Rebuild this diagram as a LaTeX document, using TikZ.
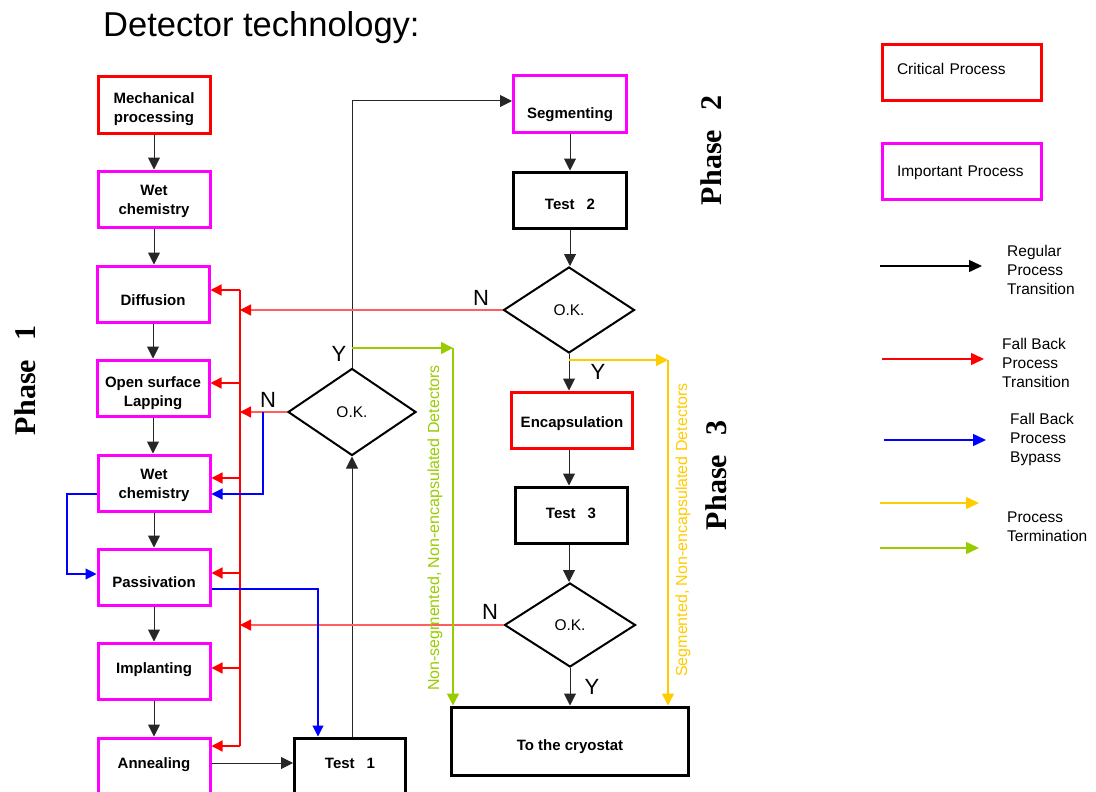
\documentclass[tikz,border=0pt]{standalone}
\usepackage{fontspec}
\setmainfont{Liberation Sans}
\newfontfamily\phasefont{Liberation Serif}
\usetikzlibrary{shapes.geometric,arrows.meta}
\definecolor{mag}{RGB}{255,0,255}
\definecolor{fbred}{RGB}{255,95,95}
\definecolor{termgreen}{RGB}{153,204,0}
\definecolor{termyellow}{RGB}{255,204,0}
% #1: raise amount (pt), #2: text; result box has symmetric fake height/depth
\newcommand{\boxtxt}[2]{\raisebox{#1pt}[10pt][10pt]{\begin{tabular}{@{}c@{}}#2\end{tabular}}}
\begin{document}
\begin{tikzpicture}[x=1pt,y=-1pt,
  proc/.style={rectangle, draw, line width=3pt, minimum width=112pt, minimum height=56pt,
    inner sep=0pt, align=center, font=\fontsize{15}{19}\selectfont\bfseries},
  crit/.style={proc, draw=red},
  imp/.style={proc, draw=mag},
  testbox/.style={proc, draw=black},
  decision/.style={diamond, draw, line width=2pt, minimum width=130pt, minimum height=86pt,
    inner sep=0pt, font=\fontsize{15.5}{18}\selectfont},
  tip/.style={-{Triangle[length=12pt,width=12pt]}},
  flow/.style={draw=black!85, line width=1pt, tip},
  fbline/.style={draw=fbred, line width=1.3pt},
  fb/.style={draw=red, line width=1.3pt, -{Triangle[length=11pt,width=11pt,color=red]}},
  fbin/.style={fbline, -{Triangle[length=11pt,width=11pt,color=red]}},
  trunk/.style={draw=red, line width=1.3pt},
  bypass/.style={draw=blue, line width=1.1pt, -{Triangle[length=11pt,width=11pt]}},
  termg/.style={draw=termgreen, line width=1.5pt, -{Triangle[length=12pt,width=12pt]}},
  termy/.style={draw=termyellow, line width=1.5pt, -{Triangle[length=12pt,width=12pt]}},
  yn/.style={inner sep=0pt, font=\fontsize{22}{22}\selectfont},
  sidetext/.style={rotate=90, inner sep=0pt, font=\fontsize{16}{16}\selectfont},
  phase/.style={rotate=90, inner sep=0pt, font=\phasefont\fontsize{30}{30}\selectfont\bfseries},
  legbox/.style={rectangle, line width=3pt, minimum width=159pt, minimum height=56pt, inner sep=0pt,
    text width=129pt, align=left, font=\fontsize{15.5}{19}\selectfont},
  legtext/.style={anchor=west, inner sep=0pt, align=left, font=\fontsize{15.5}{19}\selectfont},
  legarrow/.style={line width=1.5pt, -{Triangle[length=13pt,width=12pt]}}
]
\clip (0,0) rectangle (1096,792);
\fill[white] (0,0) rectangle (1096,792);

% Title
\node[anchor=base west, inner sep=0pt, font=\fontsize{34.5}{35}\selectfont] (title) at (103,37) {Detector technology:};

% Phase labels
\node[phase] (ph1) at (25,380) {Phase\hspace{20pt}1};
\node[phase] (ph2) at (711,150) {Phase\hspace{20pt}2};
\node[phase] (ph3) at (716,475) {Phase\hspace{20pt}3};

% Left column
\node[crit] (mech) at (154,105) {\boxtxt{-7.35}{Mechanical\\processing}};
\node[imp] (wet1) at (154,199) {\boxtxt{-5.35}{Wet\\chemistry}};
\node[imp] (diff) at (153,294) {\boxtxt{-11}{Diffusion}};
\node[imp] (lap) at (153,388) {\boxtxt{-8.85}{Open surface\\Lapping}};
\node[imp] (wet2) at (154,483) {\boxtxt{-5.35}{Wet\\chemistry}};
\node[imp] (pass) at (154,577) {\boxtxt{-9.85}{Passivation}};
\node[imp] (impl) at (154,671) {\boxtxt{-1.85}{Implanting}};
\node[imp] (anneal) at (154,766) {\boxtxt{-1.85}{Annealing}};

% Test 1 and decision 1
\node[testbox, minimum width=111pt] (test1) at (350,766) {\boxtxt{-1.85}{Test\hspace{12pt}1}};
\node[decision, minimum width=128pt, minimum height=87pt] (d1) at (352,412) {O.K.};

% Right column
\node[imp, minimum width=113pt] (seg) at (570,104) {\boxtxt{-14.35}{Segmenting}};
\node[testbox, minimum width=113pt] (test2) at (570,200) {\boxtxt{-9.35}{Test\hspace{12pt}2}};
\node[decision, minimum width=131pt, minimum height=86pt] (d2) at (569,310) {O.K.};
\node[crit, minimum width=121pt] (enc) at (572,420) {\boxtxt{-7.35}{Encapsulation}};
\node[testbox] (test3) at (571,515) {\boxtxt{-2.85}{Test\hspace{12pt}3}};
\node[decision, minimum width=131pt, minimum height=84pt] (d3) at (570,625) {O.K.};
\node[testbox, minimum width=237pt, minimum height=68pt] (cryo) at (570,741) {\boxtxt{-8.85}{To the cryostat}};

% Regular flow
\draw[flow] (mech) -- (wet1);
\draw[flow] (wet1) -- (wet1 |- diff.north);
\draw[flow] (diff) -- (diff |- lap.north);
\draw[flow] (lap) -- (lap |- wet2.north);
\draw[flow] (wet2) -- (pass);
\draw[flow] (pass) -- (impl);
\draw[flow] (impl) -- (anneal);
\draw[flow] ([yshift=3pt]anneal.east) -- ([yshift=3pt]anneal.east -| test1.west);
\draw[flow] (d1.south |- test1.north) -- (d1.south);
\coordinate (up) at (352,101);
\draw[flow] (d1.north) -- (up) -- (up -| seg.west);
\draw[flow] (seg.south) -- (seg.south |- test2.north);
\draw[flow] (test2.south) -- (test2.south |- d2.north);
\draw[flow] (d2.south) -- (d2.south |- enc.north);
\draw[flow] (d2.south |- enc.south) -- (d2.south |- test3.north);
\draw[flow] (d2.south |- test3.south) -- (d2.south |- d3.north);
\draw[flow] (d3.south) -- (d3.south |- cryo.north);

% Fall back trunk
\coordinate (rt) at (240,290);
\coordinate (rb) at (240,746);
\coordinate (r2) at (240,383);
\coordinate (r3) at (240,478);
\coordinate (r4) at (240,573);
\coordinate (r5) at (240,668);
\draw[trunk] (rt) -- (rb);
\draw[fb] (rt) -- (rt -| diff.east);
\draw[fb] (r2) -- (r2 -| lap.east);
\draw[fb] (r3) -- (r3 -| wet2.east);
\draw[fb] (r4) -- (r4 -| pass.east);
\draw[fb] (r5) -- (r5 -| impl.east);
\draw[fb] (rb) -- (rb -| anneal.east);
\draw[fbin] (d2.west) -- (d2.west -| rt);
\draw[fbin] (d1.west) -- (d1.west -| rt);
\draw[fbin] (d3.west) -- (d3.west -| rt);

% Bypass
\coordinate (b1) at (263,412);
\coordinate (b2) at (263,494);
\coordinate (b3) at (67,494);
\coordinate (b4) at (67,574);
\coordinate (b5) at (318,589);
\draw[bypass] (b1) -- (b2) -- (b2 -| wet2.east);
\draw[bypass] (b3 -| wet2.west) -- (b3) -- (b4) -- (b4 -| pass.west);
\draw[bypass] (b5 -| pass.east) -- (b5) -- (b5 |- test1.north);

% Termination
\coordinate (g1) at (453,348);
\draw[termg] (d1.north |- g1) -- (g1);
\draw[termg] (g1) -- (g1 |- cryo.north);
\coordinate (y1) at (668,360);
\draw[termy] (d2.south |- y1) -- (y1);
\draw[termy] (y1) -- (y1 |- cryo.north);

% Y / N labels
\node[yn] (ly1) at (339,354) {Y};
\node[yn] (ln1) at (268,400) {N};
\node[yn] (ln2) at (481,298) {N};
\node[yn] (ly2) at (598,372) {Y};
\node[yn] (ln3) at (490,612) {N};
\node[yn] (ly3) at (592,687) {Y};

% Side texts
\node[sidetext, text=termgreen] (gt) at (435,528) {Non-segmented, Non-encapsulated Detectors};
\node[sidetext, text=termyellow] (yt) at (683,530) {Segmented, Non-encapsulated Detectors};

% Legend
\node[legbox, draw=red] (lcrit) at (961.5,73) {\raisebox{-2pt}[10pt][10pt]{Critical Process}};
\node[legbox, draw=mag] (limp) at (961.5,171.5) {\raisebox{-5.5pt}[10pt][10pt]{Important Process}};
\coordinate (la1) at (880,266); \coordinate (la2) at (982,266);
\draw[legarrow, black] (la1) -- (la2);
\node[legtext] (lt1) at (1007,270) {Regular\\Process\\Transition};
\coordinate (lb1) at (882,359); \coordinate (lb2) at (984,359);
\draw[legarrow, red] (lb1) -- (lb2);
\node[legtext] (lt2) at (1002,363) {Fall Back\\Process\\Transition};
\coordinate (lc1) at (884,440); \coordinate (lc2) at (986,440);
\draw[legarrow, blue] (lc1) -- (lc2);
\node[legtext] (lt3) at (1010,439) {Fall Back\\Process\\Bypass};
\coordinate (ld1) at (880,503); \coordinate (ld2) at (979,503);
\draw[legarrow, termyellow] (ld1) -- (ld2);
\coordinate (le1) at (880,548); \coordinate (le2) at (979,548);
\draw[legarrow, termgreen] (le1) -- (le2);
\node[legtext] (lt4) at (1007,527) {Process\\Termination};
\end{tikzpicture}
\end{document}
